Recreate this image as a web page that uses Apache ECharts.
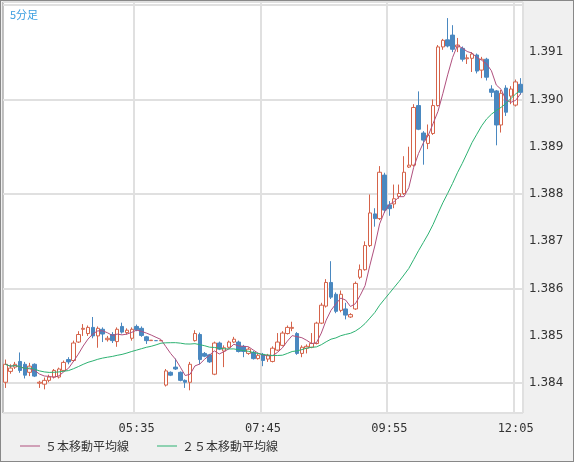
<!DOCTYPE html>
<html><head><meta charset="utf-8">
<script src="https://cdn.jsdelivr.net/npm/echarts@6/dist/echarts.min.js"></script>
<style>html,body{margin:0;padding:0;background:#f0f0f0;}#c{width:572px;height:460px;border:1px solid #888;}</style>
</head><body><div id="c"></div>
<script>
const startTime = "03:20";
const tickLabels = ["05:35","07:45","09:55","12:05"];
const yTicks = [1.384,1.385,1.386,1.387,1.388,1.389,1.390,1.391];
const opens = [1.38402,1.38425,1.38434,1.38446,1.38440,1.38423,1.38440,1.38400,1.38398,1.38406,1.38413,1.38413,1.38427,1.38450,1.38448,1.38487,1.38514,1.38505,1.38518,1.38500,1.38514,1.38492,1.38503,1.38488,1.38520,1.38507,1.38495,1.38520,1.38516,1.38498,1.38490,1.38490,1.38490,1.38396,1.38423,1.38434,1.38423,1.38406,1.38402,1.38490,1.38503,1.38463,1.38460,1.38419,1.38485,1.38468,1.38476,1.38487,1.38487,1.38478,1.38463,1.38465,1.38452,1.38461,1.38451,1.38446,1.38470,1.38480,1.38505,1.38516,1.38505,1.38463,1.38474,1.38476,1.38484,1.38527,1.38563,1.38613,1.38588,1.38554,1.38557,1.38540,1.38557,1.38624,1.38640,1.38691,1.38758,1.38748,1.38840,1.38777,1.38779,1.38795,1.38801,1.38857,1.38861,1.38987,1.38929,1.38907,1.38928,1.38987,1.39111,1.39126,1.39136,1.39111,1.39108,1.39086,1.39087,1.39094,1.39062,1.39085,1.39022,1.39018,1.38946,1.39024,1.39007,1.38988,1.39032];
const closes = [1.38440,1.38432,1.38440,1.38427,1.38417,1.38436,1.38415,1.38402,1.38406,1.38413,1.38427,1.38430,1.38444,1.38445,1.38485,1.38503,1.38516,1.38518,1.38500,1.38516,1.38504,1.38495,1.38490,1.38514,1.38508,1.38512,1.38514,1.38513,1.38501,1.38490,1.38491,1.38490,1.38490,1.38426,1.38417,1.38430,1.38406,1.38402,1.38440,1.38505,1.38450,1.38457,1.38445,1.38485,1.38472,1.38475,1.38487,1.38493,1.38467,1.38467,1.38472,1.38452,1.38459,1.38448,1.38459,1.38474,1.38487,1.38506,1.38518,1.38518,1.38463,1.38476,1.38478,1.38484,1.38527,1.38565,1.38613,1.38582,1.38552,1.38588,1.38544,1.38545,1.38611,1.38640,1.38691,1.38760,1.38748,1.38846,1.38766,1.38769,1.38790,1.38801,1.38846,1.38861,1.38983,1.38937,1.38914,1.38924,1.38987,1.39111,1.39125,1.39113,1.39106,1.39115,1.39085,1.39088,1.39096,1.39060,1.39085,1.39047,1.39015,1.38946,1.39013,1.38973,1.39022,1.39037,1.39015];
const highs = [1.38450,1.38440,1.38445,1.38465,1.38445,1.38443,1.38442,1.38405,1.38412,1.38418,1.38430,1.38433,1.38448,1.38455,1.38490,1.38510,1.38525,1.38522,1.38540,1.38520,1.38518,1.38500,1.38508,1.38518,1.38528,1.38516,1.38518,1.38524,1.38520,1.38500,1.38491,1.38490,1.38490,1.38430,1.38425,1.38452,1.38425,1.38408,1.38445,1.38512,1.38507,1.38466,1.38462,1.38488,1.38488,1.38480,1.38490,1.38498,1.38490,1.38481,1.38476,1.38468,1.38462,1.38464,1.38462,1.38478,1.38506,1.38510,1.38522,1.38530,1.38508,1.38480,1.38482,1.38506,1.38530,1.38570,1.38620,1.38658,1.38592,1.38596,1.38570,1.38548,1.38615,1.38651,1.38700,1.38799,1.38770,1.38859,1.38845,1.38785,1.38820,1.38820,1.38880,1.38900,1.38990,1.39017,1.38933,1.38947,1.39000,1.39115,1.39128,1.39172,1.39157,1.39130,1.39112,1.39095,1.39100,1.39097,1.39090,1.39088,1.39030,1.39020,1.39020,1.39030,1.39028,1.39042,1.39045];
const lows = [1.38390,1.38420,1.38430,1.38422,1.38410,1.38415,1.38413,1.38390,1.38387,1.38402,1.38410,1.38410,1.38425,1.38440,1.38445,1.38485,1.38500,1.38500,1.38495,1.38475,1.38487,1.38488,1.38485,1.38477,1.38505,1.38503,1.38490,1.38510,1.38498,1.38483,1.38490,1.38490,1.38490,1.38393,1.38415,1.38428,1.38404,1.38390,1.38385,1.38488,1.38440,1.38455,1.38443,1.38417,1.38470,1.38434,1.38474,1.38485,1.38465,1.38455,1.38460,1.38450,1.38450,1.38436,1.38445,1.38444,1.38468,1.38478,1.38503,1.38510,1.38460,1.38455,1.38463,1.38474,1.38482,1.38525,1.38560,1.38578,1.38548,1.38550,1.38535,1.38538,1.38555,1.38620,1.38638,1.38688,1.38731,1.38745,1.38760,1.38754,1.38770,1.38790,1.38798,1.38855,1.38858,1.38935,1.38862,1.38895,1.38925,1.38985,1.39105,1.39110,1.39100,1.39100,1.39080,1.39075,1.39058,1.39055,1.39045,1.39040,1.39005,1.38903,1.38930,1.38965,1.38990,1.38985,1.39010];

const cats = [];
{ let [h,m] = startTime.split(':').map(Number); let t=h*60+m;
  for (let i=0;i<opens.length;i++){ const tt=t+5*i; cats.push(String(Math.floor(tt/60)%24).padStart(2,'0')+':'+String(tt%60).padStart(2,'0')); } }
function ma(n){ return closes.map((_,i)=>{ const s=Math.max(0,i-n+1); let sum=0; for(let k=s;k<=i;k++) sum+=closes[k]; return +(sum/(i-s+1)).toFixed(6); }); }
const candles = opens.map((o,i)=>[o,closes[i],lows[i],highs[i]]);
const showTick = (idx,val)=>tickLabels.includes(val);

const chart = echarts.init(document.getElementById('c'));
chart.setOption({
  backgroundColor:'#f0f0f0',
  animation:false,
  title:{text:'5分足',left:4,top:3,textStyle:{color:'#3a9ee0',fontSize:11,fontWeight:'normal',fontFamily:'Noto Sans CJK JP'}},
  legend:{left:14,bottom:4,itemWidth:20,itemHeight:1,itemGap:28,icon:'rect',
    textStyle:{fontSize:12,color:'#333',fontFamily:'Noto Sans CJK JP'},
    data:['５本移動平均線','２５本移動平均線']},
  grid:{left:2,right:50,top:1,bottom:48,show:true,backgroundColor:'#fff',borderColor:'#888',borderWidth:1},
  xAxis:{type:'category',data:cats,boundaryGap:true,
    axisLine:{show:false},axisTick:{show:false},
    axisLabel:{interval:showTick,color:'#333',fontSize:12,margin:10,fontFamily:'DejaVu Sans Mono'},
    splitLine:{show:true,interval:showTick,lineStyle:{color:'#e0e0e0',width:2}}},
  yAxis:{type:'value',position:'right',min:1.38337,max:1.39206,
    axisLine:{show:false},axisTick:{show:false},
    axisLabel:{customValues:yTicks,formatter:v=>v.toFixed(3),color:'#333',fontSize:12,margin:6,fontFamily:'DejaVu Sans'},
    splitLine:{show:true,lineStyle:{color:'#e0e0e0',width:2}}},
  series:[
    {type:'candlestick',data:candles,barWidth:4,
     itemStyle:{color:'#ffffff',color0:'#4a88c0',borderColor:'#d5634a',borderColor0:'#4a88c0',borderWidth:1}},
    {name:'５本移動平均線',type:'line',data:ma(5),symbol:'none',lineStyle:{color:'#b0507e',width:1},itemStyle:{color:'#b0507e'}},
    {name:'２５本移動平均線',type:'line',data:ma(25),symbol:'none',lineStyle:{color:'#2db272',width:1},itemStyle:{color:'#2db272'}}
  ]
});
</script></body></html>
